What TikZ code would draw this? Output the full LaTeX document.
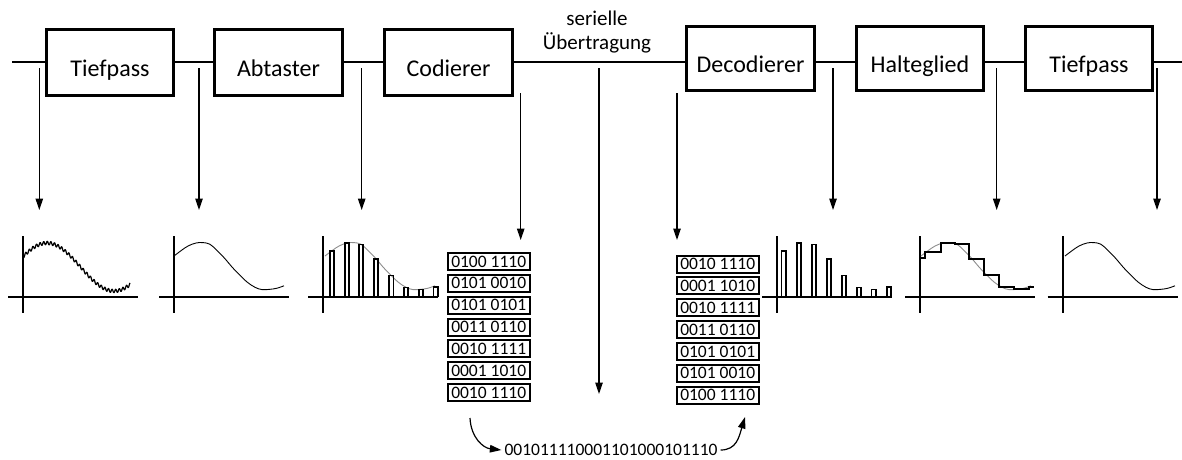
\documentclass[tikz,border=0pt]{standalone}
\usepackage{fontspec}
\setmainfont{Carlito}
\usetikzlibrary{arrows.meta}

\tikzset{
  % coordinate axes of a small signal plot, origin at the y axis
  axes/.pic={
    \draw[line width=2pt] (-15,297) -- (115,297);
    \draw[line width=2pt] (0,236) -- (0,313);
  },
  % one smooth signal period, drawn with the pic's own colour and width
  wave/.pic={
    \draw[pic actions] plot[smooth, tension=0.6] coordinates {
      (0,256) (7,250.7) (14,246) (22,243) (29,242.6) (36,244.3) (43,250.5)
      (51,258.7) (58,267) (66,275.3) (73,282) (81,287.3) (88,289.6)
      (96,289.3) (103,288.2) (110,285.8)};
  }
}

\begin{document}
\begin{tikzpicture}[x=1pt,y=-1pt,
  blk/.style={draw, line width=2.7pt, fill=white, inner sep=0pt,
    minimum width=127.5pt, minimum height=66.5pt,
    text height=27.4pt, text depth=0pt,
    font=\fontsize{24}{28}\selectfont},
  rblk/.style={blk, minimum height=64.5pt},
  bits/.style={draw, line width=2pt, inner sep=0pt,
    minimum width=82pt, minimum height=17pt,
    font=\fontsize{17.5}{20}\selectfont},
  sig/.style={line width=2.2pt},
  probe/.style={line width=1.2pt, -{Triangle[length=11.5pt,width=7.5pt]}},
  lbl/.style={inner sep=0pt, font=\fontsize{21}{24}\selectfont},
]
\useasboundingbox (0,0) rectangle (1182,459);

% signal chain
\node[blk]  (tp1) at (110,62.5)    {Tiefpass};
\node[blk]  (ab)  at (278.5,62.5)  {Abtaster};
\node[blk]  (co)  at (448.5,62.5)  {Codierer};
\node[rblk] (de)  at (750.5,58.5)  {Decodierer};
\node[rblk] (hg)  at (920,58.5)    {Halteglied};
\node[rblk] (tp2) at (1089,58.5)   {Tiefpass};

\node[lbl, anchor=base] (ser1) at (597,25) {serielle};
\node[lbl, anchor=base] (ser2) at (597,49) {Übertragung};

\coordinate (in)  at (12,62);
\coordinate (out) at (1182,62);
\draw[sig] (in) -- (in -| tp1.west);
\draw[sig] (tp1.east |- in) -- (ab.west |- in);
\draw[sig] (ab.east |- in) -- (co.west |- in);
\draw[sig] (co.east |- in) -- (de.west |- in);
\draw[sig] (de.east |- in) -- (hg.west |- in);
\draw[sig] (hg.east |- in) -- (tp2.west |- in);
\draw[sig] (tp2.east |- in) -- (out);

% probes from the chain down to the plots
\foreach \i/\x/\ya/\yb in {1/39.3/68/210, 2/199/68/210, 3/361.7/68/210,
    4/520.7/93/240, 5/599/68/394, 6/677/93/240, 7/833/68/210,
    8/996.7/68/210, 9/1157/68/210} {
  \coordinate (p\i) at (\x,\ya);
  \coordinate (q\i) at (\x,\yb);
  \draw[probe] (p\i) -- (q\i);
}

% plot 1: band-limited signal with noise
\pic at (23,0) {axes};
\draw[line width=1.2pt, line join=round]
  plot[domain=0:107, samples=400, variable=\t]
  ({23+\t}, {267-24*cos((\t-24)*180/67) + 1.7*sin(\t*100)});

% plot 2: filtered signal
\pic at (174,0) {axes};
\pic[line width=0.9pt] at (174,0) {wave};

% plot 3: sampled signal
\pic at (323,0) {axes};
\pic[black!45, line width=0.9pt] at (325,0) {wave};
\foreach \t/\v in {329.7/250.7, 344.7/242.7, 358.7/244.3, 373.7/258.7,
    389/275.3, 403.7/287.3, 418.7/289.3, 433.3/286.7}
  \draw[line width=1.6pt] (\t,297) |- (\t+4.5,\v) -- (\t+4.5,297);

% code words after the encoder
\foreach \k/\w in {1/0100 1110, 2/0101 0010, 3/0101 0101, 4/0011 0110,
    5/0010 1111, 6/0001 1010, 7/0010 1110}
  \node[bits] (c\k) at (488.7,{261.5+21.85*(\k-1)}) {\w};

% code words before the decoder
\foreach \k/\w in {1/0010 1110, 2/0001 1010, 3/0010 1111, 4/0011 0110,
    5/0101 0101, 6/0101 0010, 7/0100 1110}
  \node[bits] (d\k) at (717.7,{264+21.85*(\k-1)}) {\w};

% serial bit stream
\node[inner sep=3pt, font=\fontsize{17.5}{20}\selectfont] (s) at (611,450)
  {001011110001101000101110};
\coordinate (lt) at (470,418);
\coordinate (rt) at (745,417);
\draw[probe] (lt) .. controls +(1,20) and +(-18,-2) .. (s.west);
\draw[probe] (s.east) .. controls +(16,0) and +(-6,20) .. (rt);

% plot 4: decoded samples
\pic at (777,0) {axes};
\foreach \t/\v in {781.3/250.7, 796.7/242.7, 811.7/244.3, 826.7/258.7,
    841.7/275.3, 856.7/287.3, 871.3/289.3, 886.7/286.7}
  \draw[line width=1.6pt] (\t,297) |- (\t+4.5,\v) -- (\t+4.5,297);

% plot 5: sample and hold output
\pic at (920,0) {axes};
\pic[black!45, line width=0.9pt] at (921,0) {wave};
\draw[line width=2pt]
  (920,258.3) -- (925,258.3) -- (925,251.7) -- (940.7,251.7)
  -- (940.7,243.3) -- (955,243.3) -- (955,244.3) -- (969,244.3)
  -- (969,258.7) -- (984.3,258.7) -- (984.3,275.3) -- (999,275.3)
  -- (999,287.3) -- (1014,287.3) -- (1014,289.3) -- (1029.3,289.3)
  -- (1029.3,286.7) -- (1034.3,286.7);

% plot 6: reconstructed signal
\pic at (1062.7,0) {axes};
\pic[line width=0.9pt] at (1065,0) {wave};
\end{tikzpicture}
\end{document}
